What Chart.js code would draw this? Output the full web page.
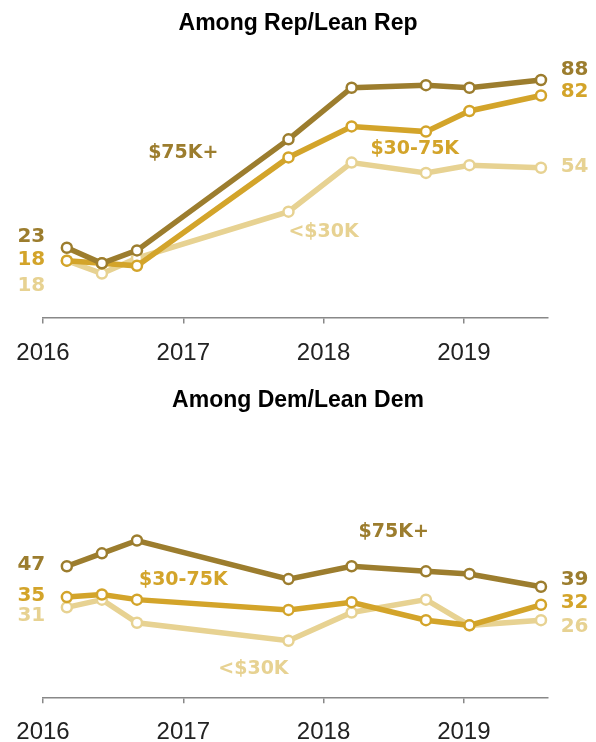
<!DOCTYPE html>
<html>
<head>
<meta charset="utf-8">
<script src="https://cdn.jsdelivr.net/npm/chart.js@4.4.0/dist/chart.umd.min.js"></script>
<style>
  html,body{margin:0;padding:0;background:#fff;}
  #wrap{position:relative;width:596px;height:742px;}
  .panel{position:absolute;left:0;width:596px;height:371px;}
</style>
</head>
<body>
<div id="wrap">
  <div class="panel" style="top:0"><canvas id="rep"></canvas></div>
  <div class="panel" style="top:371px"><canvas id="dem"></canvas></div>
</div>
<script>
// survey dates as fractional years
const dates=[2016.17,2016.42,2016.67,2017.75,2018.2,2018.73,2019.04,2019.55]
const yearTicks=[2016,2017,2018,2019]
const groups=['$75K+','$30-75K','<$30K']

const rep75=[23,17,22,65,85,86,85,88]
const rep3075=[18,17,16,58,70,68,76,82]
const rep30=[18,13,19,37,56,52,55,54]

const dem75=[47,52,57,42,47,45,44,39]
const dem3075=[35,36,34,30,33,26,24,32]
const dem30=[31,34,25,18,29,34,24,26]

const colors=['#9c7d2e','#d3a42a','#e7d292']

// where the text labels sit, in data units (year, value)
const repSpots={
  title:'Among Rep/Lean Rep', titleY:30,
  startY:[27.4,18.2,8.3], endY:[92.1,83.3,54.5],
  nameX:[2017.0,2018.65,2018.0], nameY:[59.5,61.4,29.2]
}
const demSpots={
  title:'Among Dem/Lean Dem', titleY:36,
  startY:[47.5,35.5,27.8], endY:[41.6,32.6,23.5],
  nameX:[2018.5,2017.0,2017.5], nameY:[60.2,41.6,6.8]
}

const textPlugin={
  id:'textPlugin',
  afterDatasetsDraw(chart){
    const ctx=chart.ctx
    const sp=chart.options.plugins.textPlugin.spots
    const xs=chart.scales.x, ys=chart.scales.y
    ctx.save()
    ctx.fillStyle='#000'
    ctx.font="bold 23px 'Liberation Sans'"
    ctx.textAlign='center'
    ctx.textBaseline='alphabetic'
    ctx.fillText(sp.title,chart.width/2,sp.titleY)
    ctx.textBaseline='middle'
    chart.data.datasets.forEach((ds,i)=>{
      const d=ds.data
      ctx.fillStyle=colors[i]
      ctx.font="bold 20px 'DejaVu Sans'"
      ctx.textAlign='right'
      ctx.fillText(String(d[0].y),xs.getPixelForValue(2016.016),ys.getPixelForValue(sp.startY[i]))
      ctx.textAlign='left'
      ctx.fillText(String(d[d.length-1].y),xs.getPixelForValue(2019.69),ys.getPixelForValue(sp.endY[i]))
      ctx.font="bold 19px 'DejaVu Sans'"
      ctx.textAlign='center'
      ctx.fillText(groups[i],xs.getPixelForValue(sp.nameX[i]),ys.getPixelForValue(sp.nameY[i]))
    })
    ctx.restore()
  }
}

function makeChart(id,series,spots,padTop,axisH){
  const datasets=series.map((vals,i)=>({
    label:groups[i],
    data:dates.map((t,j)=>({x:t,y:vals[j]})),
    borderColor:colors[i],
    borderWidth:5.5,
    pointRadius:5,
    pointBorderWidth:2.5,
    pointBackgroundColor:'#fff',
    pointBorderColor:colors[i],
    tension:0,
    clip:false
  }))
  return new Chart(document.getElementById(id),{
    type:'line',
    data:{datasets:datasets},
    options:{
      responsive:true,
      maintainAspectRatio:false,
      animation:false,
      layout:{padding:{top:padTop,left:43,right:48,bottom:0}},
      plugins:{legend:{display:false},tooltip:{enabled:false},textPlugin:{spots:spots}},
      scales:{
        x:{
          type:'linear',min:2016,max:2019.6,
          afterBuildTicks:(s)=>{s.ticks=yearTicks.map(v=>({value:v}))},
          afterFit:(s)=>{s.height=axisH},
          grid:{drawOnChartArea:false,drawTicks:true,tickLength:6,color:'#888',lineWidth:1.5},
          border:{display:true,color:'#888',width:1.5},
          ticks:{color:'#222',font:{family:'Liberation Sans',size:24},padding:15,callback:(v)=>String(v),maxRotation:0}
        },
        y:{display:false,min:-4,max:100}
      }
    },
    plugins:[textPlugin]
  })
}

makeChart('rep',[rep75,rep3075,rep30],repSpots,49,53.5)
makeChart('dem',[dem75,dem3075,dem30],demSpots,59,44.7)
</script>
</body>
</html>
